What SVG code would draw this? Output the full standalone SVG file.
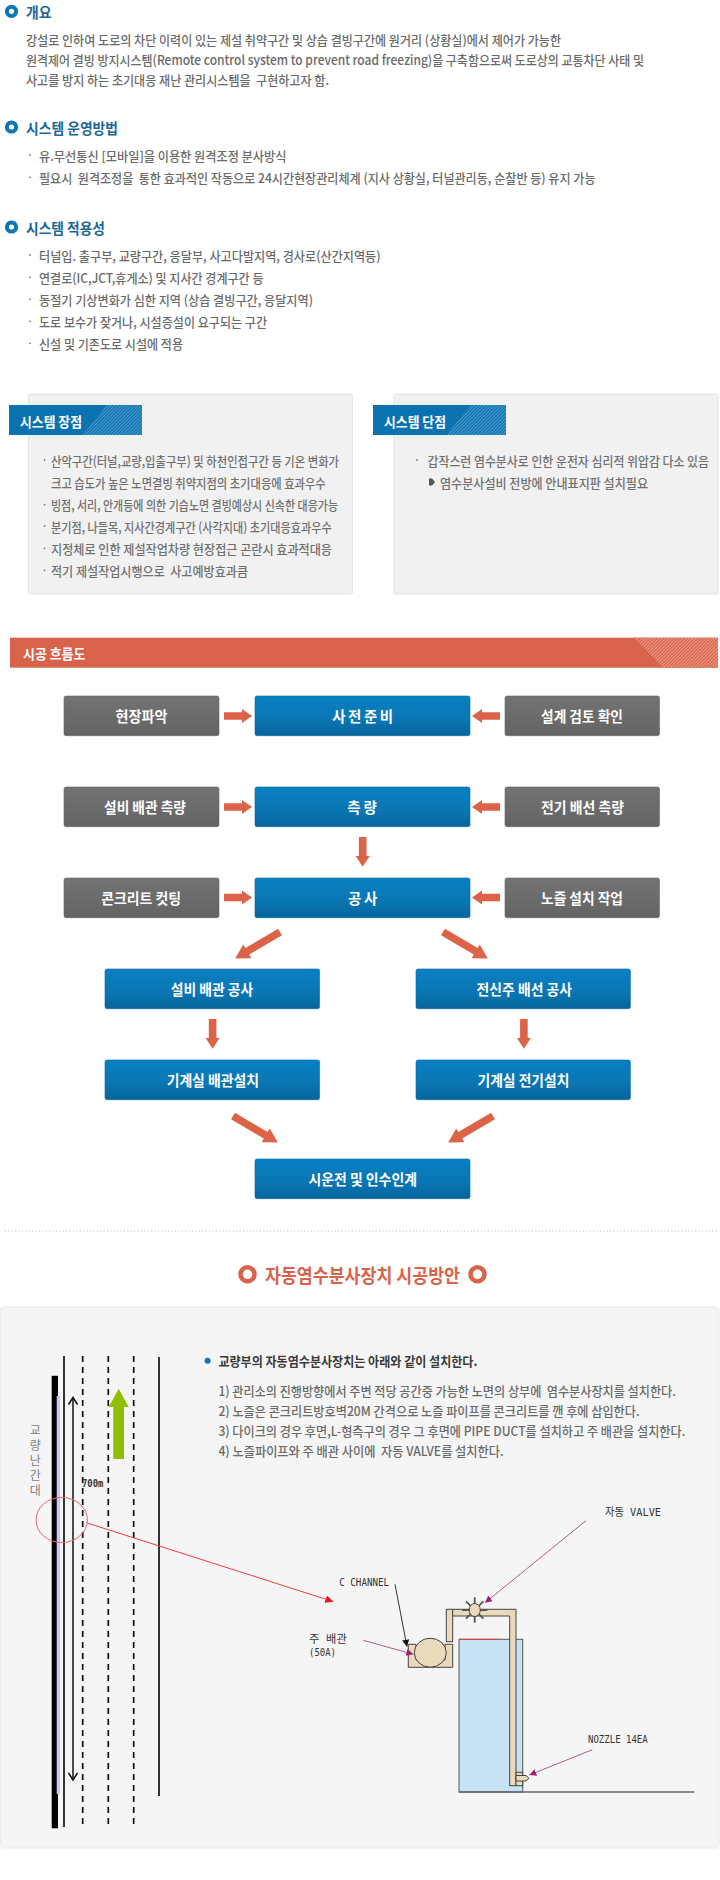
<svg xmlns="http://www.w3.org/2000/svg" width="720" height="1880" viewBox="0 0 720 1880">
<style>
text{font-family:"Noto Sans CJK KR","Noto Sans",sans-serif;dominant-baseline:central;white-space:pre}
.h{font-size:15px;font-weight:700;fill:#1c6797}
.b{font-size:13px;font-weight:500;fill:#6a6a6a}
.p{font-size:13px;font-weight:500;fill:#707070}
.t{font-size:14px;font-weight:700;fill:#fff}
.n{font-size:14.5px;font-weight:700;fill:#fff;text-anchor:middle}
.m{font-family:"DejaVu Sans Mono","Noto Sans CJK KR",monospace;font-size:11px;fill:#333}
.d{fill:#777}
.ring{fill:#fff;stroke:#0b78b5;stroke-width:4}
.gray{fill:url(#gg);stroke:#666;stroke-width:.6}
.blue{fill:url(#bg);stroke:#0a689f;stroke-width:.6}
.arr{fill:#dc6347}
.tube{fill:#ead9bb;stroke:#444;stroke-width:1}
.pur{stroke:#a8608f;stroke-width:1;fill:none;marker-end:url(#mp)}
.road{stroke:#111;stroke-width:1.7;fill:none}
.dash{stroke:#111;stroke-width:1.7;fill:none;stroke-dasharray:6 5}
</style>
<defs>
<linearGradient id="gg" x1="0" y1="0" x2="0" y2="1"><stop offset="0" stop-color="#737373"/><stop offset="1" stop-color="#646464"/></linearGradient>
<linearGradient id="bg" x1="0" y1="0" x2="0" y2="1"><stop offset="0" stop-color="#0880c3"/><stop offset=".6" stop-color="#0a76b3"/><stop offset="1" stop-color="#06649a"/></linearGradient>
<pattern id="hb" width="2.4" height="2.4" patternUnits="userSpaceOnUse" patternTransform="rotate(45)"><rect width="2.4" height="2.4" fill="#0b72b0"/><rect width="1" height="2.4" fill="#4f9dcc"/></pattern>
<pattern id="ho" width="2.4" height="2.4" patternUnits="userSpaceOnUse" patternTransform="rotate(45)"><rect width="2.4" height="2.4" fill="#d9624a"/><rect width="1" height="2.4" fill="#eda08e"/></pattern>
<path id="ah" d="M0-3.8H18V-7L28 0 18 7V3.8H0Z"/>
<path id="ad" d="M0-3.8H38V-8L52 0 38 8V3.8H0Z"/>
<marker id="mr" markerUnits="userSpaceOnUse" markerWidth="10" markerHeight="10" refX="8" refY="4" orient="auto"><path d="M0 0L8 4 0 8Z" fill="#f0141e"/></marker>
<marker id="mp" markerUnits="userSpaceOnUse" markerWidth="10" markerHeight="10" refX="7" refY="3.5" orient="auto"><path d="M0 0L7 3.5 0 7Z" fill="#a01f6c"/></marker>
<marker id="mk" markerUnits="userSpaceOnUse" markerWidth="10" markerHeight="10" refX="7" refY="3.5" orient="auto"><path d="M0 0L7 3.5 0 7Z" fill="#111"/></marker>
<marker id="mo" markerUnits="userSpaceOnUse" markerWidth="12" markerHeight="12" refX="8" refY="5" orient="auto"><path d="M1 .5L8 5 1 9.5" fill="none" stroke="#111" stroke-width="1.5"/></marker>
</defs>
<rect width="720" height="1880" fill="#fff"/>

<g id="overview">
<circle class="ring" cx="11.5" cy="11.3" r="4.6"/>
<text class="h" x="26" y="11.3" textLength="25.5" lengthAdjust="spacingAndGlyphs">개요</text>
<text class="b" x="26" y="39.3" textLength="535" lengthAdjust="spacingAndGlyphs">강설로 인하여 도로의 차단 이력이 있는 제설 취약구간 및 상습 결빙구간에 원거리 (상황실)에서 제어가 가능한</text>
<text class="b" x="26" y="59.3" textLength="618" lengthAdjust="spacingAndGlyphs">원격제어 결빙 방지시스템(Remote control system to prevent road freezing)을 구축함으로써 도로상의 교통차단 사태 및</text>
<text class="b" x="26" y="79.3" textLength="303" lengthAdjust="spacingAndGlyphs">사고를 방지 하는 초기대응 재난 관리시스템을  구현하고자 함.</text>
</g>
<g id="operation">
<circle class="ring" cx="11.5" cy="127" r="4.6"/>
<text class="h" x="26" y="127" textLength="92" lengthAdjust="spacingAndGlyphs">시스템 운영방법</text>
<circle class="d" cx="30" cy="155" r=".9"/><text class="b" x="39" y="155" textLength="247.5" lengthAdjust="spacingAndGlyphs">유.무선통신 [모바일]을 이용한 원격조정 분사방식</text>
<circle class="d" cx="30" cy="177.3" r=".9"/><text class="b" x="39" y="177.3" textLength="556.5" lengthAdjust="spacingAndGlyphs">필요시  원격조정을  통한 효과적인 작동으로 24시간현장관리체계 (지사 상황실, 터널관리동, 순찰반 등) 유지 가능</text>
</g>
<g id="applicability">
<circle class="ring" cx="11.5" cy="227" r="4.6"/>
<text class="h" x="26" y="227" textLength="79" lengthAdjust="spacingAndGlyphs">시스템 적용성</text>
<circle class="d" cx="30" cy="255" r=".9"/><text class="b" x="39" y="255" textLength="341.6" lengthAdjust="spacingAndGlyphs">터널입. 출구부, 교량구간, 응달부, 사고다발지역, 경사로(산간지역등)</text>
<circle class="d" cx="30" cy="277.3" r=".9"/><text class="b" x="39" y="277.3" textLength="224.5" lengthAdjust="spacingAndGlyphs">연결로(IC,JCT,휴게소) 및 지사간 경계구간 등</text>
<circle class="d" cx="30" cy="299.3" r=".9"/><text class="b" x="39" y="299.3" textLength="274" lengthAdjust="spacingAndGlyphs">동절기 기상변화가 심한 지역 (상습 결빙구간, 응달지역)</text>
<circle class="d" cx="30" cy="321.3" r=".9"/><text class="b" x="39" y="321.3" textLength="228" lengthAdjust="spacingAndGlyphs">도로 보수가 잦거나, 시설증설이 요구되는 구간</text>
<circle class="d" cx="30" cy="343.3" r=".9"/><text class="b" x="39" y="343.3" textLength="144" lengthAdjust="spacingAndGlyphs">신설 및 기존도로 시설에 적용</text>
</g>

<g id="advantages">
<rect x="28.5" y="394" width="324" height="200" rx="2" fill="#f1f1f1" stroke="#e4e4e4"/>
<rect x="9" y="405" width="133" height="30" fill="#0b72b0"/>
<path d="M82 435L107 405H142V435Z" fill="url(#hb)"/>
<text class="t" x="20" y="420.7" textLength="62" lengthAdjust="spacingAndGlyphs">시스템 장점</text>
<circle class="d" cx="44.5" cy="460" r=".9"/><text class="p" x="51" y="460" textLength="288" lengthAdjust="spacingAndGlyphs">산악구간(터널,교량,입출구부) 및 하천인접구간 등 기온 변화가</text>
<text class="p" x="51" y="482.3" textLength="274.7" lengthAdjust="spacingAndGlyphs">크고 습도가 높은 노면결빙 취약지점의 초기대응에 효과우수</text>
<circle class="d" cx="44.5" cy="504.7" r=".9"/><text class="p" x="51" y="504.7" textLength="287" lengthAdjust="spacingAndGlyphs">빙점, 서리, 안개등에 의한 기습노면 결빙예상시 신속한 대응가능</text>
<circle class="d" cx="44.5" cy="526" r=".9"/><text class="p" x="51" y="526" textLength="280.7" lengthAdjust="spacingAndGlyphs">분기점, 나들목, 지사간경계구간 (사각지대) 초기대응효과우수</text>
<circle class="d" cx="44.5" cy="548.3" r=".9"/><text class="p" x="51" y="548.3" textLength="281" lengthAdjust="spacingAndGlyphs">지정체로 인한 제설작업차량 현장접근 곤란시 효과적대응</text>
<circle class="d" cx="44.5" cy="570.3" r=".9"/><text class="p" x="51" y="570.3" textLength="197" lengthAdjust="spacingAndGlyphs">적기 제설작업시행으로  사고예방효과큼</text>
</g>
<g id="disadvantages">
<rect x="394" y="394" width="324" height="200" rx="2" fill="#f1f1f1" stroke="#e4e4e4"/>
<rect x="373" y="405" width="133" height="30" fill="#0b72b0"/>
<path d="M446 435L471 405H506V435Z" fill="url(#hb)"/>
<text class="t" x="384" y="420.7" textLength="62" lengthAdjust="spacingAndGlyphs">시스템 단점</text>
<circle class="d" cx="417" cy="460" r=".9"/><text class="p" x="427.5" y="460" textLength="281.5" lengthAdjust="spacingAndGlyphs">갑작스런 염수분사로 인한 운전자 심리적 위압감 다소 있음</text>
<path d="M429 478.5H432L435 482 432 485.5H429Z" fill="#555"/>
<text class="p" x="440" y="482.3" textLength="208" lengthAdjust="spacingAndGlyphs">염수분사설비 전방에 안내표지판 설치필요</text>
</g>

<g id="flow-header">
<rect x="10" y="637.7" width="708" height="30" fill="#d9624a"/>
<path d="M634 637.7H718V667.7H663Z" fill="url(#ho)"/>
<text class="t" x="23" y="652.7" textLength="62.4" lengthAdjust="spacingAndGlyphs">시공 흐름도</text>
</g>

<g id="connectors">
<use href="#ah" class="arr" transform="translate(224 716)"/>
<use href="#ah" class="arr" transform="translate(500 716) rotate(180)"/>
<use href="#ah" class="arr" transform="translate(224 807)"/>
<use href="#ah" class="arr" transform="translate(500 807) rotate(180)"/>
<use href="#ah" class="arr" transform="translate(224 897.5)"/>
<use href="#ah" class="arr" transform="translate(500 897.5) rotate(180)"/>
<use href="#ah" class="arr" transform="translate(362.7 837) rotate(90) scale(1.06 1)"/>
<use href="#ah" class="arr" transform="translate(212.6 1019) rotate(90) scale(1.06 1)"/>
<use href="#ah" class="arr" transform="translate(523.9 1019) rotate(90) scale(1.06 1)"/>
<use href="#ad" class="arr" transform="translate(280 932) rotate(149.5)"/>
<use href="#ad" class="arr" transform="translate(443 932) rotate(30.5)"/>
<use href="#ad" class="arr" transform="translate(233 1116) rotate(30.5)"/>
<use href="#ad" class="arr" transform="translate(493 1116) rotate(149.5)"/>
</g>

<g id="n-site"><rect class="gray" x="64" y="696" width="155" height="39.7" rx="2"/><text class="n" x="141.6" y="715.7" textLength="52" lengthAdjust="spacingAndGlyphs">현장파악</text></g>
<g id="n-prep"><rect class="blue" x="255" y="696" width="215" height="39.7" rx="2"/><text class="n" x="362.7" y="715.7" textLength="61" lengthAdjust="spacing">사 전 준 비</text></g>
<g id="n-review"><rect class="gray" x="505" y="696" width="154.5" height="39.7" rx="2"/><text class="n" x="582" y="715.7" textLength="82" lengthAdjust="spacingAndGlyphs">설계 검토 확인</text></g>
<g id="n-pipe-survey"><rect class="gray" x="64" y="787" width="155" height="39.7" rx="2"/><text class="n" x="145" y="806.7" textLength="82" lengthAdjust="spacingAndGlyphs">설비 배관 측량</text></g>
<g id="n-survey"><rect class="blue" x="255" y="787" width="215" height="39.7" rx="2"/><text class="n" x="362" y="806.7" textLength="29.5" lengthAdjust="spacing">측 량</text></g>
<g id="n-elec-survey"><rect class="gray" x="505" y="787" width="154.5" height="39.7" rx="2"/><text class="n" x="582.5" y="806.7" textLength="83" lengthAdjust="spacingAndGlyphs">전기 배선 측량</text></g>
<g id="n-cut"><rect class="gray" x="64" y="878" width="155" height="39.7" rx="2"/><text class="n" x="141.2" y="897.7" textLength="80" lengthAdjust="spacingAndGlyphs">콘크리트 컷팅</text></g>
<g id="n-work"><rect class="blue" x="255" y="878" width="215" height="39.7" rx="2"/><text class="n" x="362.7" y="897.7" textLength="29.5" lengthAdjust="spacing">공 사</text></g>
<g id="n-nozzle"><rect class="gray" x="505" y="878" width="154.5" height="39.7" rx="2"/><text class="n" x="582" y="897.7" textLength="82" lengthAdjust="spacingAndGlyphs">노즐 설치 작업</text></g>
<g id="n-pipe-work"><rect class="blue" x="105" y="969" width="214.6" height="39.7" rx="2"/><text class="n" x="212" y="988.7" textLength="82.6" lengthAdjust="spacingAndGlyphs">설비 배관 공사</text></g>
<g id="n-pole-work"><rect class="blue" x="416" y="969" width="214.4" height="39.7" rx="2"/><text class="n" x="524.3" y="988.7" textLength="95.4" lengthAdjust="spacingAndGlyphs">전신주 배선 공사</text></g>
<g id="n-room-pipe"><rect class="blue" x="105" y="1060" width="214.6" height="39.7" rx="2"/><text class="n" x="212.8" y="1079.7" textLength="92.3" lengthAdjust="spacingAndGlyphs">기계실 배관설치</text></g>
<g id="n-room-elec"><rect class="blue" x="416" y="1060" width="214.4" height="39.7" rx="2"/><text class="n" x="523.4" y="1079.7" textLength="91.8" lengthAdjust="spacingAndGlyphs">기계실 전기설치</text></g>
<g id="n-handover"><rect class="blue" x="255" y="1159" width="215" height="39.7" rx="2"/><text class="n" x="362.7" y="1178.7" textLength="108.5" lengthAdjust="spacingAndGlyphs">시운전 및 인수인계</text></g>

<line x1="5" y1="1231" x2="718" y2="1231" stroke="#b5b5b5" stroke-width="1" stroke-dasharray="1 2.4"/>

<g id="method-title">
<circle cx="247.5" cy="1274.3" r="7" fill="#fff" stroke="#d9624a" stroke-width="4.5"/>
<text x="265" y="1274.3" font-size="19" font-weight="700" fill="#d9624a" textLength="195" lengthAdjust="spacingAndGlyphs">자동염수분사장치 시공방안</text>
<circle cx="477.5" cy="1274.3" r="7" fill="#fff" stroke="#d9624a" stroke-width="4.5"/>
</g>

<rect x=".5" y="1307" width="718.5" height="541" rx="3" fill="#f5f5f5" stroke="#ebebeb"/>

<g id="method-text">
<circle cx="207.6" cy="1360.7" r="3" fill="#0b78b5"/>
<text x="218.4" y="1360.7" font-size="13" font-weight="700" fill="#3a3a3a" textLength="259" lengthAdjust="spacingAndGlyphs">교량부의 자동염수분사장치는 아래와 같이 설치한다.</text>
<text class="b" x="218.4" y="1390.7" textLength="457.4" lengthAdjust="spacingAndGlyphs">1) 관리소의 진행방향에서 주변 적당 공간중 가능한 노면의 상부에  염수분사장치를 설치한다.</text>
<text class="b" x="218.4" y="1410.7" textLength="421.2" lengthAdjust="spacingAndGlyphs">2) 노즐은 콘크리트방호벽20M 간격으로 노즐 파이프를 콘크리트를 깬 후에 삽입한다.</text>
<text class="b" x="218.4" y="1430.7" textLength="466.9" lengthAdjust="spacingAndGlyphs">3) 다이크의 경우 후면,L-형측구의 경우 그 후면에 PIPE DUCT를 설치하고 주 배관을 설치한다.</text>
<text class="b" x="218.4" y="1450.7" textLength="285.3" lengthAdjust="spacingAndGlyphs">4) 노즐파이프와 주 배관 사이에  자동 VALVE를 설치한다.</text>
</g>

<g id="road-plan">
<rect x="51.7" y="1375.8" width="6.3" height="452.5" fill="#000"/>
<rect x="56.7" y="1396" width="3.3" height="398" fill="#c8c8f0"/>
<path class="road" d="M64 1356V1827"/>
<path class="dash" d="M82.7 1356V1824"/>
<path class="dash" d="M108.3 1356V1824"/>
<path class="dash" d="M133.7 1356V1824"/>
<path class="road" d="M159 1357V1796"/>
<line x1="73" y1="1398" x2="73" y2="1780" stroke="#111" stroke-width="1.5" marker-end="url(#mo)"/>
<path d="M68.5 1404.5L73 1397.5 77.5 1404.5" fill="none" stroke="#111" stroke-width="1.5"/>
<path d="M108.7 1407L118.7 1388.8 128.7 1407H124V1459H113.3V1407Z" fill="#8fbf00"/>
<g font-size="12" fill="#808080" text-anchor="middle">
<text x="35.3" y="1429.5">교</text><text x="35.3" y="1444.3">량</text><text x="35.3" y="1459">난</text><text x="35.3" y="1474.6">간</text><text x="35.3" y="1489.4">대</text>
</g>
<text class="m" x="82" y="1483.5" textLength="21.3" lengthAdjust="spacingAndGlyphs" font-weight="700">700m</text>
<ellipse cx="61.7" cy="1520" rx="25.7" ry="22.6" fill="none" stroke="#f0606e" stroke-width="1"/>
<line x1="87.3" y1="1523" x2="333.3" y2="1601.6" stroke="#f03c46" stroke-width="1" marker-end="url(#mr)"/>
</g>

<g id="section-detail">
<rect x="459" y="1639.3" width="63.7" height="152.7" fill="#c5e3f5" stroke="#555" stroke-width="1"/>
<line x1="459" y1="1639.3" x2="498.3" y2="1639.3" stroke="#e0403c" stroke-width="1"/>
<line x1="459" y1="1792" x2="694.3" y2="1792" stroke="#666" stroke-width="1.4"/>
<path class="tube" d="M408.3 1644.3H416V1660H445V1644.3H452.7V1667.3H408.3Z"/>
<ellipse class="tube" cx="430.3" cy="1652.7" rx="16" ry="14.5"/>
<rect class="tube" x="446.3" y="1609.3" width="6.4" height="32.4"/>
<path class="tube" d="M452.7 1609.3H516V1785.7H509.7V1616H452.7Z"/>
<rect class="tube" x="516" y="1772.3" width="6.7" height="13.4"/>
<path class="tube" d="M516 1775.5H526L529 1778.3 526 1781H516Z"/>
<path d="M474.7 1597.3V1622.7M462 1610H487.4M466 1601.3L483.4 1618.7M483.4 1601.3L466 1618.7" stroke="#555" stroke-width="1.8" fill="none"/>
<ellipse class="tube" cx="474.7" cy="1610" rx="5.6" ry="6.5"/>
<line class="pur" x1="586" y1="1520.7" x2="485" y2="1602.7"/>
<line class="pur" x1="363.3" y1="1640.3" x2="413.3" y2="1654.3"/>
<line class="pur" x1="592.3" y1="1749.7" x2="529.3" y2="1775"/>
<line x1="395" y1="1584.3" x2="407" y2="1646.7" stroke="#333" stroke-width="1" marker-end="url(#mk)"/>
<text class="m" x="605" y="1512.3" textLength="56" lengthAdjust="spacingAndGlyphs">자동 VALVE</text>
<text class="m" x="339.3" y="1582.3" textLength="49.7" lengthAdjust="spacingAndGlyphs">C CHANNEL</text>
<text class="m" x="309" y="1639" textLength="37.7" lengthAdjust="spacingAndGlyphs">주 배관</text>
<text class="m" x="309" y="1652.3" textLength="27" lengthAdjust="spacingAndGlyphs">(50A)</text>
<text class="m" x="588" y="1739.3" textLength="59.7" lengthAdjust="spacingAndGlyphs">NOZZLE 14EA</text>
</g>
</svg>
